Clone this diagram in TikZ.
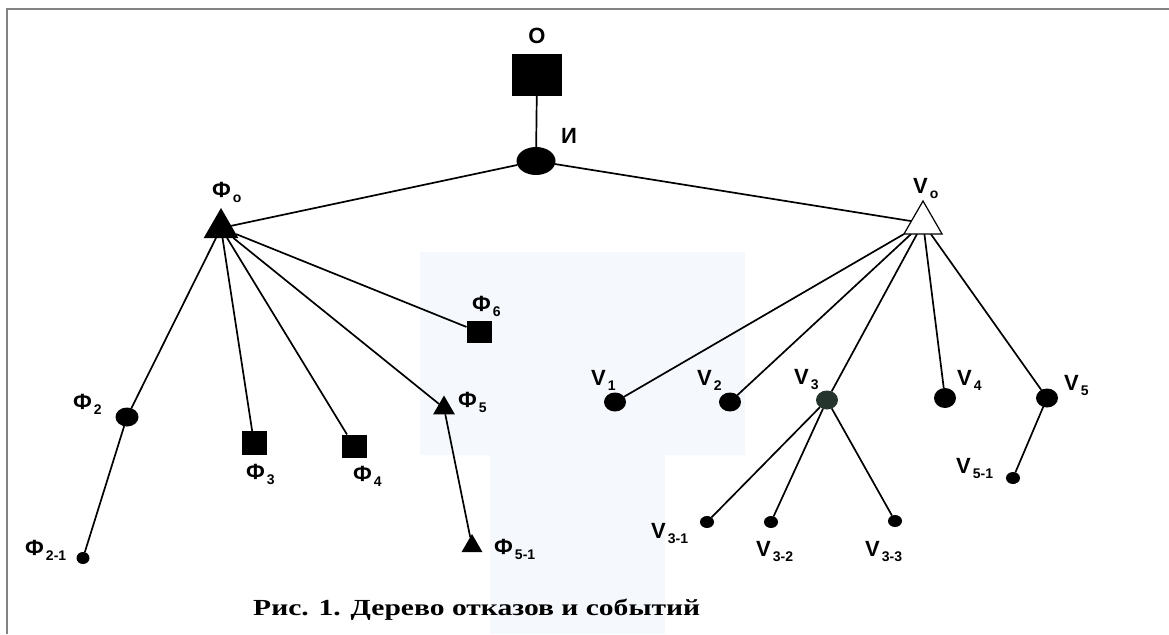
\documentclass[tikz,border=0pt]{standalone}
\usepackage{fontspec}
\usepackage{graphicx}
\setmainfont{Liberation Serif}
\newfontfamily\labfont{Liberation Sans}
\usetikzlibrary{shapes.geometric,backgrounds}
\definecolor{scanblue}{RGB}{245,248,253}
\definecolor{vthree}{RGB}{38,52,46}
\definecolor{framegray}{RGB}{130,130,130}
\newcommand{\lbl}[2]{\labfont\bfseries #1\hspace{2pt}\raisebox{-5pt}{\fontsize{14}{14}\selectfont #2}}
\tikzset{
  sq/.style={rectangle, fill=black, inner sep=0pt, outer sep=0pt},
  dot/.style={ellipse, fill=black, inner sep=0pt, outer sep=0pt},
  tri/.style={regular polygon, regular polygon sides=3, fill=black, inner sep=0pt, outer sep=0pt},
  wtri/.style={regular polygon, regular polygon sides=3, fill=white, draw=black, line width=1.2pt, inner sep=0pt, outer sep=0pt},
  lab/.style={anchor=base west, inner sep=0pt, font=\fontsize{22}{22}\selectfont},
  link/.style={line width=1.7pt, black},
}
\begin{document}
\begin{tikzpicture}[x=1pt,y=-1pt]
\useasboundingbox (0,0) rectangle (1169,634);
% nodes
\node[sq, minimum width=50pt, minimum height=41pt] (O) at (537,75) {};
\node[dot, minimum width=39pt, minimum height=28pt] (I) at (536,161) {};
\node[tri, minimum size=40pt] (F0) at (221,228) {};
\node[wtri, minimum size=44pt] (V0) at (923,223) {};
\node[dot, minimum width=23pt, minimum height=19pt] (F2) at (127,417) {};
\node[dot, minimum width=13pt, minimum height=12pt] (F21) at (83,558) {};
\node[sq, minimum width=25pt, minimum height=24pt] (F3) at (254,443) {};
\node[sq, minimum width=25pt, minimum height=23pt] (F4) at (354,446) {};
\node[tri, minimum size=25pt] (F5) at (444,408) {};
\node[sq, minimum width=25pt, minimum height=22pt] (F6) at (479,332) {};
\node[tri, minimum size=24pt] (F51) at (472,546) {};
\node[dot, minimum width=22pt, minimum height=19pt] (V1) at (615,402) {};
\node[dot, minimum width=22pt, minimum height=19pt] (V2) at (730,402) {};
\node[dot, fill=vthree, minimum width=22pt, minimum height=19pt] (V3) at (827,400) {};
\node[dot, minimum width=22pt, minimum height=20pt] (V4) at (945,398) {};
\node[dot, minimum width=22pt, minimum height=19pt] (V5) at (1047,398) {};
\node[dot, minimum width=14pt, minimum height=12pt] (V51) at (1013,478) {};
\node[dot, minimum width=14pt, minimum height=12pt] (V31) at (707,522) {};
\node[dot, minimum width=14pt, minimum height=12pt] (V32) at (771,522) {};
\node[dot, minimum width=14pt, minimum height=12pt] (V33) at (895,521) {};
% background and connectors
\begin{scope}[on background layer]
  \fill[white] (0,0) rectangle (1169,634);
  \fill[scanblue] (420,252) -- (745,252) -- (745,455) -- (665,455) -- (665,634) -- (490,634) -- (490,455) -- (420,455) -- cycle;
  \draw[framegray, line width=2.5pt] (6,9) -- (1169,9);
  \draw[framegray, line width=2.5pt] (7,9) -- (7,634);
  \draw[link] (O) -- (I);
  \draw[link] (I) -- (F0);
  \draw[link] (I) -- (V0);
  \draw[link] (F0) -- (F2);
  \draw[link] (F0) -- (F3);
  \draw[link] (F0) -- (F4);
  \draw[link] (F0) -- (F5);
  \draw[link] (F0) -- (F6);
  \draw[link] (F2) -- (F21);
  \draw[link] (F5) -- (F51);
  \draw[link] (V0) -- (V1);
  \draw[link] (V0) -- (V2);
  \draw[link] (V0) -- (V3);
  \draw[link] (V0) -- (V4);
  \draw[link] (V0) -- (V5);
  \draw[link] (V3) -- (V31);
  \draw[link] (V3) -- (V32);
  \draw[link] (V3) -- (V33);
  \draw[link] (V5) -- (V51);
\end{scope}
% labels
\node[lab, anchor=base] (lO) at (537,44) {\labfont\bfseries O};
\node[lab] (lI) at (561,143) {\labfont\bfseries И};
\node[lab] (lF0) at (212,197) {\lbl{Ф}{o}};
\node[lab] (lV0) at (913,193) {\lbl{V}{o}};
\node[lab] (lF2) at (73,409) {\lbl{Ф}{2}};
\node[lab] (lF21) at (25,555) {\lbl{Ф}{2-1}};
\node[lab] (lF3) at (246,479) {\lbl{Ф}{3}};
\node[lab] (lF4) at (353,481) {\lbl{Ф}{4}};
\node[lab] (lF5) at (458,407) {\lbl{Ф}{5}};
\node[lab] (lF6) at (472,311) {\lbl{Ф}{6}};
\node[lab] (lF51) at (494,554) {\lbl{Ф}{5-1}};
\node[lab] (lV1) at (591,385) {\lbl{V}{1}};
\node[lab] (lV2) at (697,385) {\lbl{V}{2}};
\node[lab] (lV3) at (794,384) {\lbl{V}{3}};
\node[lab] (lV31) at (651,538) {\lbl{V}{3-1}};
\node[lab] (lV32) at (756,556) {\lbl{V}{3-2}};
\node[lab] (lV33) at (865,556) {\lbl{V}{3-3}};
\node[lab] (lV4) at (957,385) {\lbl{V}{4}};
\node[lab] (lV5) at (1064,390) {\lbl{V}{5}};
\node[lab] (lV51) at (956,473) {\lbl{V}{5-1}};
% caption
\node[anchor=base west, inner sep=0pt] (cap) at (253,615) {\resizebox{447pt}{\height}{\fontsize{23}{23}\selectfont\bfseries Рис. 1. Дерево отказов и событий}};
\end{tikzpicture}
\end{document}
